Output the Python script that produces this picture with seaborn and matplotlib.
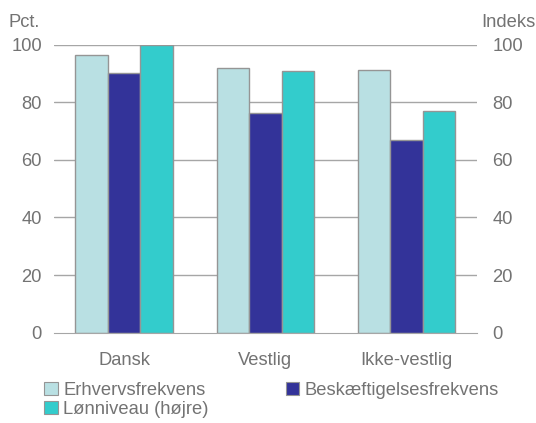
import seaborn as sns
import pandas as pd
import matplotlib.pyplot as plt

# Values
categories = ['Dansk', 'Vestlig', 'Ikke-vestlig']
erhvervsfrekvens = [96.5, 91.9, 91.2]
beskaeftigelse = [90.3, 76.2, 67.0]
loenniveau = [100.0, 90.9, 77.0]
series_names = ['Erhvervsfrekvens', 'Beskæftigelsesfrekvens', 'Lønniveau (højre)']
colors = ['#B9E0E3', '#333399', '#33CCCC']

df = pd.DataFrame({
    'Gruppe': categories * 3,
    'Serie': [series_names[0]] * 3 + [series_names[1]] * 3 + [series_names[2]] * 3,
    'Værdi': erhvervsfrekvens + beskaeftigelse + loenniveau,
})

sns.set_style('white')
plt.rcParams['font.family'] = ['Liberation Sans', 'DejaVu Sans']
txt = '#737373'
grid = '#A6A6A6'
fs = 13.2

fig = plt.figure(figsize=(5.36, 4.23), dpi=100)
ax = fig.add_axes([0.1, 0.2135, 0.79, 0.681])

sns.barplot(data=df, x='Gruppe', y='Værdi', hue='Serie', palette=colors,
            order=categories, hue_order=series_names, width=0.69,
            edgecolor='#959595', linewidth=1, saturation=1, ax=ax, legend=False, zorder=3)

ax.set_ylim(0, 100)
ax.set_xlim(-0.5, 2.5)
ax.set_yticks(range(0, 101, 20))
for y in range(20, 101, 20):
    ax.axhline(y, color=grid, linewidth=1, zorder=1)

for s in ['top', 'right', 'left']:
    ax.spines[s].set_visible(False)
ax.spines['bottom'].set_color(grid)
ax.spines['bottom'].set_zorder(4)

ax.set_xticks([0, 1, 2])
ax.set_xticklabels(categories)
ax.set_xticks([-0.5, 0.5, 1.5, 2.5], minor=True)
ax.tick_params(axis='x', which='major', length=0, pad=14, labelsize=fs, labelcolor=txt)
ax.tick_params(axis='x', which='minor', length=5, color=grid, direction='out')
ax.tick_params(axis='y', length=0, pad=8.5, labelsize=fs, labelcolor=txt)
ax.set_xlabel('')
ax.set_ylabel('')

ax2 = ax.twinx()
ax2.set_ylim(0, 100)
ax2.set_yticks(range(0, 101, 20))
for s in ax2.spines.values():
    s.set_visible(False)
ax2.tick_params(axis='y', length=0, pad=11, labelsize=fs, labelcolor=txt)

fig.text(0.015, 0.947, 'Pct.', fontsize=fs, color=txt, ha='left', va='center')
fig.text(0.999, 0.947, 'Indeks', fontsize=fs, color=txt, ha='right', va='center')

handles = [plt.Rectangle((0, 0), 1, 1, facecolor=c, edgecolor='#959595', linewidth=0.8)
           for c in colors]
# column-major fill: first column Erhverv/Løn, second column Beskæftigelse
order = [0, 2, 1]
fig.legend([handles[i] for i in order], [series_names[i] for i in order],
           loc='lower left', bbox_to_anchor=(0.058, -0.018),
           ncol=2, frameon=False, fontsize=fs, labelcolor=txt,
           handlelength=0.75, handleheight=0.75, handletextpad=0.3,
           columnspacing=4.2, labelspacing=0.1, borderpad=0.2)

fig.savefig('out.png', dpi=100)
